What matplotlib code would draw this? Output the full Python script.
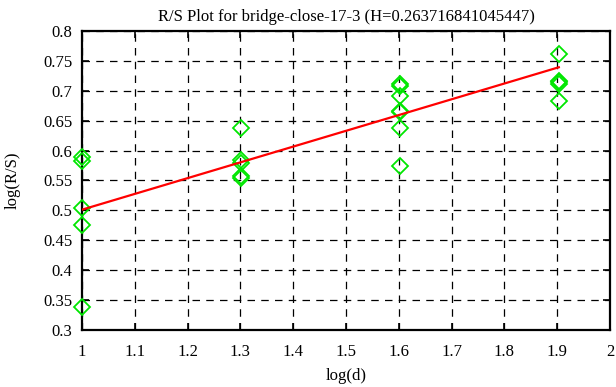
import matplotlib
matplotlib.use("Agg")
import matplotlib.pyplot as plt
import numpy as np

plt.rcParams['font.family'] = ['Liberation Serif', 'DejaVu Serif']

# data
log_d = [1.0, 1.30103, 1.60206, 1.90309]
rs_x1 = [0.590, 0.583, 0.504, 0.475, 0.338]
rs_x2 = [0.638, 0.584, 0.579, 0.558, 0.554]
rs_x3 = [0.712, 0.708, 0.692, 0.667, 0.664, 0.638, 0.574]
rs_x4 = [0.761, 0.717, 0.714, 0.712, 0.683]
H = 0.263716841045447
intercept = 0.2375
title = "R/S Plot for bridge-close-17-3 (H=0.263716841045447)"
xticks = [1.0, 1.1, 1.2, 1.3, 1.4, 1.5, 1.6, 1.7, 1.8, 1.9, 2.0]
yticks = [0.3, 0.35, 0.4, 0.45, 0.5, 0.55, 0.6, 0.65, 0.7, 0.75, 0.8]

groups = [rs_x1, rs_x2, rs_x3, rs_x4]
xs = []
ys = []
for xv, g in zip(log_d, groups):
    xs += [xv] * len(g)
    ys += g

fig = plt.figure(figsize=(6.16, 3.87), dpi=100)
ax = fig.add_axes([82/616, 1 - 330/387, (610-82)/616, (330-31)/387])

ax.plot(xs, ys, linestyle='none', marker='D', markersize=8.5,
        markerfacecolor='none', markeredgecolor='#00e600', markeredgewidth=1.3,
        zorder=3, clip_on=False)
fx = np.array([log_d[0], log_d[-1]])
ax.plot(fx, H * fx + intercept, color='#ff0000', linewidth=1.6, zorder=4)

ax.set_xlim(1.0, 2.0)
ax.set_ylim(0.3, 0.8)
ax.set_xticks(xticks)
ax.set_yticks(yticks)
ax.set_xticklabels([f"{v:g}" for v in xticks])
ax.set_yticklabels([f"{v:g}" for v in yticks])
ax.tick_params(direction='in', length=5, width=1.2, top=True, right=True,
               labelsize=12, colors='black')
ax.tick_params(axis='x', pad=10)
ax.tick_params(axis='y', pad=7)
ax.grid(True, color='black', linestyle=(0, (6, 5)), linewidth=0.9)
for s in ax.spines.values():
    s.set_linewidth(1.6)
    s.set_color('black')

ax.set_title(title, fontsize=12, pad=7)
ax.set_xlabel("log(d)", fontsize=12, labelpad=6)
ax.set_ylabel("log(R/S)", fontsize=12, labelpad=16)

fig.savefig("out.png", dpi=100)
